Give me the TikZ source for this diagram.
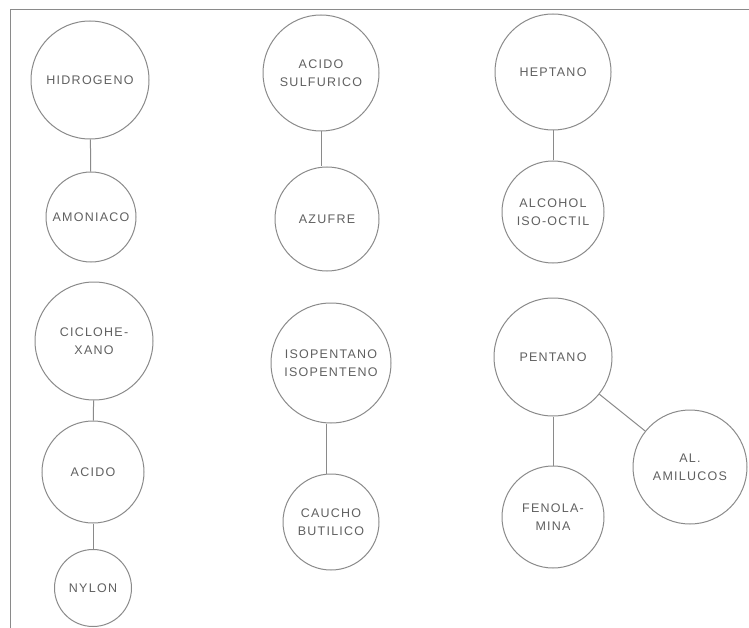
\documentclass[tikz,border=0pt]{standalone}
\usepackage{fontspec}
\setmainfont{Liberation Sans}
\newfontfamily\bubfont[LetterSpace=10]{Liberation Sans}
\definecolor{linegray}{HTML}{8A8A8A}
\definecolor{textgray}{HTML}{606060}
\begin{document}
\begin{tikzpicture}[x=1pt,y=-1pt,
  bub/.style={circle, draw=linegray, line width=1pt, inner sep=0pt, align=center,
    font=\bubfont\fontsize{12.5}{18}\selectfont, text=textgray},
  link/.style={draw=linegray, line width=1pt}]
\useasboundingbox (0,0) rectangle (749,628);
\draw[link] (10,628) -- (10,10) -- (749,10);
% column 1
\node[bub, minimum size=118pt] (hid) at (90,80) {HIDROGENO};
\node[bub, minimum size=90pt] (amo) at (91,217) {AMONIACO};
\node[bub, minimum size=118pt] (cic) at (94,341) {CICLOHE-\\XANO};
\node[bub, minimum size=102pt] (aci) at (93,472) {ACIDO};
\node[bub, minimum size=77pt] (nyl) at (93,588) {NYLON};
% column 2
\node[bub, minimum size=116pt] (aso) at (321,73) {ACIDO\\SULFURICO};
\node[bub, minimum size=104pt] (azu) at (327,219) {AZUFRE};
\node[bub, minimum size=120pt] (iso) at (331,363) {ISOPENTANO\\ISOPENTENO};
\node[bub, minimum size=96pt] (cau) at (331,522) {CAUCHO\\BUTILICO};
% column 3
\node[bub, minimum size=116pt] (hep) at (553,72) {HEPTANO};
\node[bub, minimum size=102pt] (alc) at (553,212) {ALCOHOL\\ISO-OCTIL};
\node[bub, minimum size=118pt] (pen) at (553,357) {PENTANO};
\node[bub, minimum size=102pt] (fen) at (553,517) {FENOLA-\\MINA};
\node[bub, minimum size=114pt] (ala) at (690,467) {AL.\\AMILUCOS};
% connectors
\draw[link] (hid) -- (amo);
\draw[link] (cic) -- (aci);
\draw[link] (aci) -- (nyl);
\draw[link] (aso.south) -- (aso.south |- azu.north);
\draw[link] ([xshift=-5pt]iso.south) -- ([xshift=-5pt]cau.north);
\draw[link] (hep) -- (alc);
\draw[link] (pen) -- (fen);
\draw[link] (pen) -- (ala);
\end{tikzpicture}
\end{document}
